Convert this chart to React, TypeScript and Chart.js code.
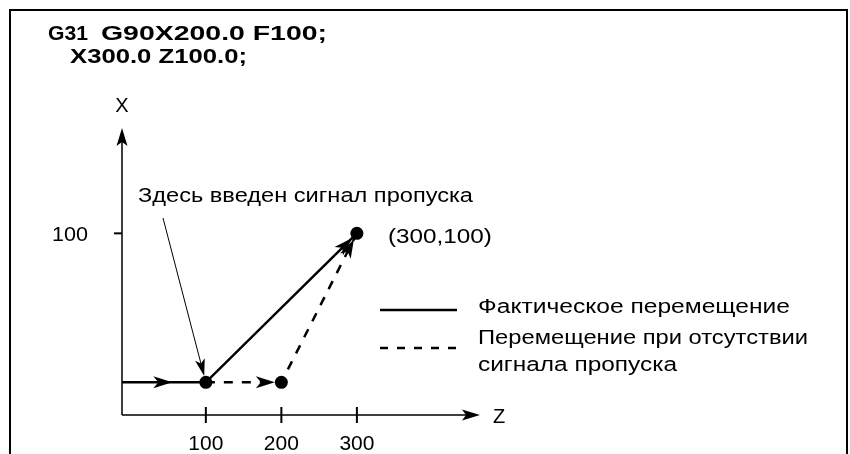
import React, { useEffect, useRef } from "react";
import { Chart, registerables } from "chart.js";

Chart.register(...registerables);

// ---- data ----
const zTickValues = [100, 200, 300];
const zTickLabels = ["100", "200", "300"];
const xTickValues = [100];
const xTickLabels = ["100"];
const zAxisRange = [-11, 463];
const xAxisRange = [0, 158];
const actualZ = [-11, 100, 300];
const actualX = [18, 18, 100];
const noSkipZ = [100, 200, 300];
const noSkipX = [18, 18, 100];
const pointZ = [100, 200, 300];
const pointX = [18, 18, 100];
const titleLine1 = ["G31", "G90X200.0 F100;"];
const titleLine2 = "X300.0 Z100.0;";
const legendLabels = ["Фактическое перемещение", "Перемещение при отсутствии", "сигнала пропуска"];
const annotationText = "Здесь введен сигнал пропуска";
const endLabel = "(300,100)";
const axisNames = ["Z", "X"];

const FONT = '"Liberation Sans", Arial, Helvetica, sans-serif';
const DOT_R = 6.5;

function arrowHead(ctx: CanvasRenderingContext2D, tx: number, ty: number, ang: number, len: number, hw: number, notch: number) {
  const c = Math.cos(ang), s = Math.sin(ang);
  const bx = tx - len * c, by = ty - len * s;
  ctx.beginPath();
  ctx.moveTo(tx, ty);
  ctx.lineTo(bx - hw * s, by + hw * c);
  ctx.lineTo(tx - (len - notch) * c, ty - (len - notch) * s);
  ctx.lineTo(bx + hw * s, by - hw * c);
  ctx.closePath();
  ctx.fill();
}

// draw left-aligned text stretched horizontally to a given width
function fitText(ctx: CanvasRenderingContext2D, text: string, x: number, y: number, w: number) {
  const m = ctx.measureText(text).width;
  const s = w / m;
  ctx.save();
  ctx.translate(x, y);
  ctx.scale(s, 1);
  ctx.textAlign = "left";
  ctx.fillText(text, 0, 0);
  ctx.restore();
}

const diagramPlugin = {
  id: "diagram",
  beforeDatasetsDraw(chart: any) {
    const ctx: CanvasRenderingContext2D = chart.ctx;
    const xs = chart.scales.x, ys = chart.scales.y;
    ctx.save();
    ctx.fillStyle = "#fff";
    ctx.fillRect(0, 0, chart.width, chart.height);
    ctx.strokeStyle = "#000";
    ctx.fillStyle = "#000";
    // frame
    ctx.lineWidth = 2;
    ctx.beginPath();
    ctx.moveTo(10, chart.height + 5);
    ctx.lineTo(10, 10);
    ctx.lineTo(847, 10);
    ctx.lineTo(847, chart.height + 5);
    ctx.stroke();
    // title
    ctx.font = `bold 21px ${FONT}`;
    ctx.textBaseline = "alphabetic";
    fitText(ctx, titleLine1[0], 48, 40, 40);
    fitText(ctx, titleLine1[1], 101, 40, 226);
    fitText(ctx, titleLine2, 70, 63, 177);

    // axes
    const ax = xs.getPixelForValue(zAxisRange[0]);
    const ay = ys.getPixelForValue(xAxisRange[0]);
    const zEnd = xs.getPixelForValue(zAxisRange[1]);
    const xEnd = ys.getPixelForValue(xAxisRange[1]);
    ctx.lineWidth = 1.5;
    ctx.beginPath();
    ctx.moveTo(ax, ay);
    ctx.lineTo(zEnd - 8, ay);
    ctx.moveTo(ax, ay);
    ctx.lineTo(ax, xEnd + 8);
    ctx.stroke();
    arrowHead(ctx, zEnd, ay, 0, 18, 5.5, 4);
    arrowHead(ctx, ax, xEnd, -Math.PI / 2, 18, 5.5, 4);

    // ticks
    ctx.lineWidth = 2;
    ctx.font = `20px ${FONT}`;
    zTickValues.forEach((v, i) => {
      const px = xs.getPixelForValue(v);
      ctx.beginPath();
      ctx.moveTo(px, ay - 8);
      ctx.lineTo(px, ay + 8);
      ctx.stroke();
      fitText(ctx, zTickLabels[i], px - 17.5, ay + 35, 35);
    });
    xTickValues.forEach((v, i) => {
      const py = ys.getPixelForValue(v);
      ctx.beginPath();
      ctx.moveTo(ax - 8, py);
      ctx.lineTo(ax, py);
      ctx.stroke();
      fitText(ctx, xTickLabels[i], ax - 70, py + 8, 36);
    });
    // axis names
    ctx.textAlign = "left";
    ctx.fillText(axisNames[0], zEnd + 13, ay + 8);
    ctx.textAlign = "center";
    ctx.fillText(axisNames[1], ax, xEnd - 16);
    ctx.restore();
  },
  afterDatasetsDraw(chart: any) {
    const ctx: CanvasRenderingContext2D = chart.ctx;
    const xs = chart.scales.x, ys = chart.scales.y;
    ctx.save();
    ctx.fillStyle = "#000";
    ctx.strokeStyle = "#000";
    const P = (z: number, x: number) => [xs.getPixelForValue(z), ys.getPixelForValue(x)];
    // arrows on actual path
    const a0 = P(actualZ[0], actualX[0]), a1 = P(actualZ[1], actualX[1]), a2 = P(actualZ[2], actualX[2]);
    arrowHead(ctx, a0[0] + (a1[0] - a0[0]) * 0.6, a0[1] + (a1[1] - a0[1]) * 0.6, Math.atan2(a1[1] - a0[1], a1[0] - a0[0]), 19, 6, 5);
    let ang = Math.atan2(a2[1] - a1[1], a2[0] - a1[0]);
    arrowHead(ctx, a2[0] - DOT_R * Math.cos(ang), a2[1] - DOT_R * Math.sin(ang), ang, 19, 6, 5);
    // arrows on no-skip path
    const n0 = P(noSkipZ[0], noSkipX[0]), n1 = P(noSkipZ[1], noSkipX[1]), n2 = P(noSkipZ[2], noSkipX[2]);
    ang = Math.atan2(n1[1] - n0[1], n1[0] - n0[0]);
    arrowHead(ctx, n1[0] - DOT_R * Math.cos(ang), n1[1] - DOT_R * Math.sin(ang), ang, 19, 6, 5);
    ang = Math.atan2(n2[1] - n1[1], n2[0] - n1[0]);
    arrowHead(ctx, n2[0] - DOT_R * Math.cos(ang), n2[1] - DOT_R * Math.sin(ang), ang, 19, 6, 5);

    // annotation and leader
    ctx.font = `20px ${FONT}`;
    ctx.textBaseline = "alphabetic";
    const tx = 138, tb = 202;
    fitText(ctx, annotationText, tx, tb, 335);
    const ls = [tx + 25, tb + 16];
    ang = Math.atan2(a1[1] - ls[1], a1[0] - ls[0]);
    const tip = [a1[0] - DOT_R * Math.cos(ang), a1[1] - DOT_R * Math.sin(ang)];
    ctx.lineWidth = 1;
    ctx.beginPath();
    ctx.moveTo(ls[0], ls[1]);
    ctx.lineTo(tip[0] - 10 * Math.cos(ang), tip[1] - 10 * Math.sin(ang));
    ctx.stroke();
    arrowHead(ctx, tip[0], tip[1], ang, 17, 5, 4);

    // end label
    fitText(ctx, endLabel, a2[0] + 31, a2[1] + 10, 104);

    // legend
    ctx.lineWidth = 2.5;
    ctx.beginPath();
    ctx.moveTo(380, 310);
    ctx.lineTo(457, 310);
    ctx.stroke();
    ctx.setLineDash([8, 9]);
    ctx.beginPath();
    ctx.moveTo(380, 348);
    ctx.lineTo(457, 348);
    ctx.stroke();
    ctx.setLineDash([]);
    fitText(ctx, legendLabels[0], 478, 313, 312);
    fitText(ctx, legendLabels[1], 478, 344, 330);
    fitText(ctx, legendLabels[2], 478, 371, 199);
    ctx.restore();
  },
};

export default function App() {
  const ref = useRef<HTMLCanvasElement | null>(null);
  useEffect(() => {
    if (!ref.current) return;
    const toPts = (zs: number[], xs: number[]) => zs.map((z, i) => ({ x: z, y: xs[i] }));
    const chart = new Chart(ref.current, {
      type: "scatter",
      data: {
        datasets: [
          {
            label: "points",
            data: toPts(pointZ, pointX),
            pointRadius: DOT_R,
            pointBackgroundColor: "#000",
            pointBorderWidth: 0,
            showLine: false,
          },
          {
            label: legendLabels[0],
            data: toPts(actualZ, actualX),
            showLine: true,
            borderColor: "#000",
            borderWidth: 2.5,
            pointRadius: 0,
          },
          {
            label: legendLabels[1],
            data: toPts(noSkipZ, noSkipX),
            showLine: true,
            borderColor: "#000",
            borderWidth: 2.5,
            borderDash: [9, 9],
            pointRadius: 0,
          },
        ],
      },
      options: {
        responsive: false,
        maintainAspectRatio: false,
        animation: false,
        events: [],
        layout: { padding: { left: 122, right: 370, top: 128, bottom: 39 } },
        scales: {
          x: { type: "linear", min: zAxisRange[0], max: zAxisRange[1], display: false },
          y: { type: "linear", min: xAxisRange[0], max: xAxisRange[1], display: false },
        },
        plugins: { legend: { display: false }, tooltip: { enabled: false }, title: { display: false } },
      },
      plugins: [diagramPlugin],
    } as any);
    return () => chart.destroy();
  }, []);
  return (
    <div style={{ position: "fixed", left: 0, top: 0, width: 850, height: 454, background: "#fff" }}>
      <canvas ref={ref} width={850} height={454} style={{ display: "block" }} />
    </div>
  );
}
